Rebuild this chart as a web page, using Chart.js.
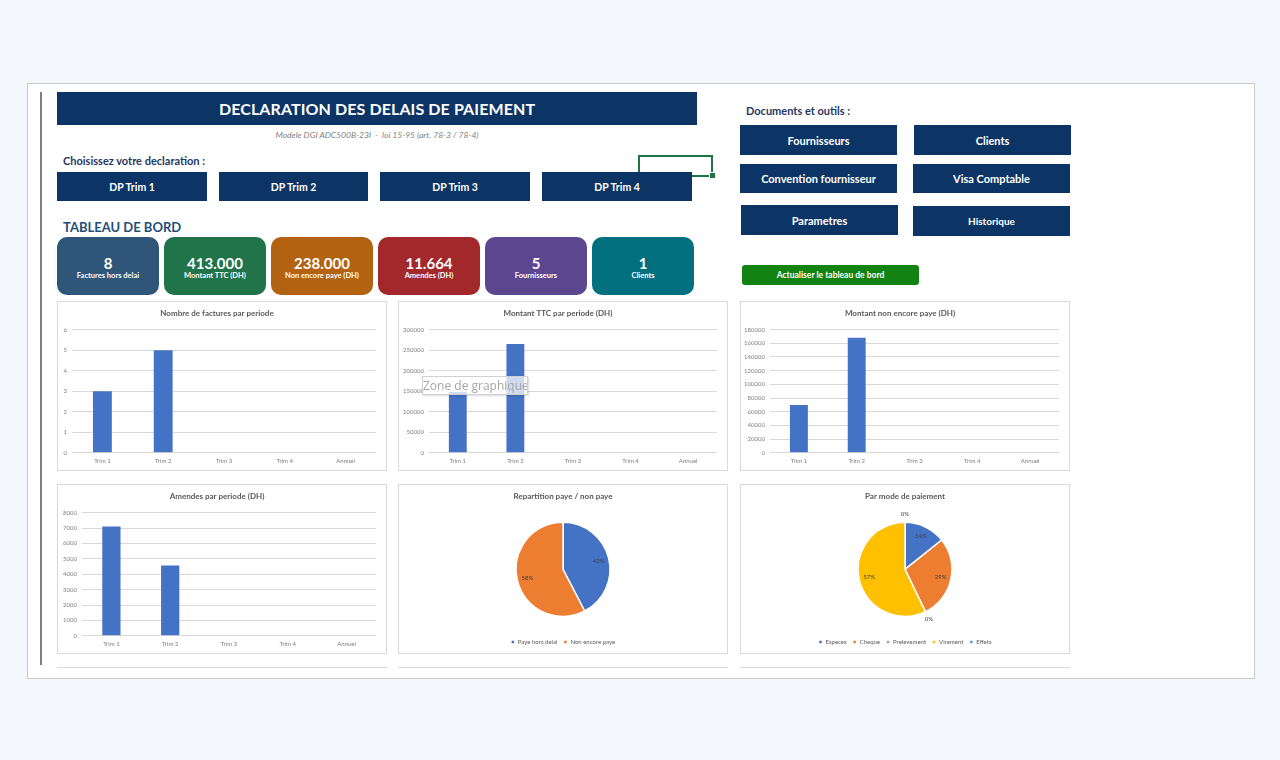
<!DOCTYPE html>
<html>
<head>
<meta charset="utf-8">
<script src="https://cdn.jsdelivr.net/npm/chart.js@4.4.1/dist/chart.umd.min.js"></script>
<style>
  body { margin: 0; width: 1280px; height: 760px; background: #f3f6fa; font-family: Lato, "Open Sans", sans-serif; position: relative; overflow: hidden; }
  .abs { position: absolute; }
  .panel { left: 27px; top: 83px; width: 1226px; height: 594px; background: #fff; border: 1px solid #c9c9c9; }
  .navy { background: #0c3565; color: #fff; font-weight: 700; display: flex; align-items: center; justify-content: center; }
  .btn { font-size: 10.5px; }
  .card { height: 58px; width: 102px; top: 237px; border-radius: 10px; color: #fff; text-align: center; font-weight: 700; }
  .card .v { position: absolute; left: 0; right: 0; top: 17px; font-size: 15px; line-height: 18px; }
  .card .l { position: absolute; left: 0; right: 0; top: 34px; font-size: 7.5px; line-height: 10px; }
  .box { border: 1px solid #d9d9d9; background: #fff; width: 328px; height: 168px; overflow: hidden; }
  .box canvas { display: block; }
  .cut { height: 0; border-top: 1px solid #d9d9d9; width: 330px; top: 667px; }
</style>
</head>
<body>
<div class="abs panel"></div>
<div class="abs" style="left:40px;top:92px;width:2px;height:573px;background:#7f7f7f"></div>

<div class="abs navy" style="left:57px;top:92px;width:640px;height:33px;font-size:16px;letter-spacing:0.1px">DECLARATION DES DELAIS DE PAIEMENT</div>
<div class="abs" style="left:177px;top:130px;width:400px;text-align:center;font-size:8.5px;font-style:italic;color:#7f7f7f">Modele DGI ADC500B-23I &nbsp;- &nbsp;loi 15-95 (art. 78-3 / 78-4)</div>
<div class="abs" style="left:63px;top:154px;font-size:11px;font-weight:700;color:#1f3864">Choisissez votre declaration :</div>

<div class="abs" style="left:638px;top:155px;width:71px;height:18px;border:2px solid #217346"></div>
<div class="abs" style="left:709px;top:172px;width:5px;height:5px;background:#217346;border:1px solid #fff"></div>

<div class="abs navy btn" style="left:57px;top:172px;width:150px;height:29px">DP Trim 1</div>
<div class="abs navy btn" style="left:219px;top:172px;width:149px;height:29px">DP Trim 2</div>
<div class="abs navy btn" style="left:380px;top:172px;width:150px;height:29px">DP Trim 3</div>
<div class="abs navy btn" style="left:542px;top:172px;width:150px;height:29px">DP Trim 4</div>

<div class="abs" style="left:746px;top:104px;font-size:11px;font-weight:700;color:#1f3864">Documents et outils :</div>
<div class="abs navy" style="left:740px;top:125px;width:157px;height:30px;font-size:11px">Fournisseurs</div>
<div class="abs navy" style="left:914px;top:125px;width:157px;height:30px;font-size:11px">Clients</div>
<div class="abs navy" style="left:740px;top:164px;width:157px;height:29px;font-size:11px">Convention fournisseur</div>
<div class="abs navy" style="left:913px;top:164px;width:157px;height:29px;font-size:11px">Visa Comptable</div>
<div class="abs navy" style="left:741px;top:205px;width:157px;height:30px;font-size:11px">Parametres</div>
<div class="abs navy" style="left:913px;top:206px;width:157px;height:30px;font-size:10px">Historique</div>
<div class="abs" style="left:742px;top:265px;width:177px;height:20px;border-radius:3px;background:#128312;color:#fff;font-size:8.5px;font-weight:700;display:flex;align-items:center;justify-content:center">Actualiser le tableau de bord</div>

<div class="abs" style="left:63px;top:219px;font-size:13px;font-weight:700;color:#1f4e79">TABLEAU DE BORD</div>
<div class="abs card" style="left:57px;background:#2f5579"><div class="v">8</div><div class="l">Factures hors delai</div></div>
<div class="abs card" style="left:164px;background:#21734a"><div class="v">413.000</div><div class="l">Montant TTC (DH)</div></div>
<div class="abs card" style="left:271px;background:#b36211"><div class="v">238.000</div><div class="l">Non encore paye (DH)</div></div>
<div class="abs card" style="left:378px;background:#a3282c"><div class="v">11.664</div><div class="l">Amendes (DH)</div></div>
<div class="abs card" style="left:485px;background:#5d4690"><div class="v">5</div><div class="l">Fournisseurs</div></div>
<div class="abs card" style="left:592px;background:#03707f"><div class="v">1</div><div class="l">Clients</div></div>

<div class="abs box" style="left:57px;top:301px"><canvas id="c1" width="328" height="168"></canvas></div>
<div class="abs box" style="left:398px;top:301px"><canvas id="c2" width="328" height="168"></canvas></div>
<div class="abs box" style="left:740px;top:301px"><canvas id="c3" width="328" height="168"></canvas></div>
<div class="abs box" style="left:57px;top:484px"><canvas id="c4" width="328" height="168"></canvas></div>
<div class="abs box" style="left:398px;top:484px"><canvas id="c5" width="328" height="170"></canvas></div>
<div class="abs box" style="left:740px;top:484px"><canvas id="c6" width="328" height="170"></canvas></div>
<div class="abs cut" style="left:57px"></div>
<div class="abs cut" style="left:398px"></div>
<div class="abs cut" style="left:740px"></div>

<div class="abs" style="left:422px;top:376px;width:104px;height:17px;background:rgba(255,255,255,0.75);border:1px solid #d0d0d0;box-shadow:1px 1px 2px rgba(0,0,0,0.15);font-size:12px;line-height:17px;color:#a6a6a6;font-family:'Open Sans',sans-serif;white-space:nowrap;overflow:hidden">Zone de graphique</div>

<script>
const periods = ["Trim 1", "Trim 2", "Trim 3", "Trim 4", "Annuel"];
const nbFactures = [3, 5, 0, 0, 0];
const montantTTC = [148000, 265000, 0, 0, 0];
const nonEncorePaye = [70000, 168000, 0, 0, 0];
const amendes = [7100, 4564, 0, 0, 0];

const repartLabels = ["Paye hors delai", "Non encore paye"];
const repartValues = [175000, 238000];

const modeLabels = ["Especes", "Cheque", "Prelevement", "Virement", "Effets"];
const modeValues = [1, 2, 0, 4, 0];

const barColor = "#4472c4";
const pieColors = ["#4472c4", "#ed7d31", "#a5a5a5", "#ffc000", "#5b9bd5"];

Chart.defaults.font.family = "Lato, 'Open Sans', sans-serif";
Chart.defaults.animation = false;

// Bar chart builder
function barChart(id, title, values, max, step, axisWidth) {
  new Chart(document.getElementById(id), {
    type: "bar",
    data: {
      labels: periods,
      datasets: [{ data: values, backgroundColor: barColor, barPercentage: 0.31, categoryPercentage: 1 }],
    },
    options: {
      responsive: false,
      layout: { padding: { left: 0, right: 10, bottom: 0, top: 0 } },
      scales: {
        x: {
          grid: { display: false, drawTicks: false },
          border: { display: false },
          ticks: { font: { size: 6 }, color: "#7f7f7f", padding: 5 },
        },
        y: {
          min: 0,
          max: max,
          ticks: { stepSize: step, font: { size: 6 }, color: "#7f7f7f", padding: 5, callback: (v) => String(v) },
          grid: { color: "#d9d9d9", drawTicks: false },
          border: { display: false },
          afterFit: (scale) => { scale.width = axisWidth; },
        },
      },
      plugins: {
        legend: { display: false },
        tooltip: { enabled: false },
        title: {
          display: true,
          text: title,
          color: "#595959",
          font: { size: 8, weight: "bold" },
          padding: { top: 7, bottom: 11 },
        },
      },
    },
  });
}

barChart("c1", "Nombre de factures par periode", nbFactures, 6, 1, 14);
barChart("c2", "Montant TTC par periode (DH)", montantTTC, 300000, 50000, 30);
barChart("c3", "Montant non encore paye (DH)", nonEncorePaye, 180000, 20000, 29);
barChart("c4", "Amendes par periode (DH)", amendes, 8000, 1000, 24);

// Percentage labels on the pies
const pieLabels = {
  id: "pieLabels",
  afterDatasetsDraw(chart) {
    const ctx = chart.ctx;
    const vals = chart.data.datasets[0].data;
    const total = vals.reduce((a, b) => a + b, 0);
    ctx.save();
    ctx.font = "6px Lato";
    ctx.fillStyle = "#404040";
    ctx.textAlign = "center";
    ctx.textBaseline = "middle";
    chart.getDatasetMeta(0).data.forEach((arc, i) => {
      const p = arc.getProps(["x", "y", "startAngle", "endAngle", "outerRadius"], true);
      const mid = (p.startAngle + p.endAngle) / 2;
      const r = vals[i] ? p.outerRadius * 0.78 : p.outerRadius + 8;
      ctx.fillText(Math.round((vals[i] / total) * 100) + "%", p.x + Math.cos(mid) * r, p.y + Math.sin(mid) * r);
    });
    ctx.restore();
  },
};

function pieChart(id, title, labels, values) {
  new Chart(document.getElementById(id), {
    type: "pie",
    data: {
      labels: labels,
      datasets: [{
        data: values,
        backgroundColor: pieColors.slice(0, values.length),
        borderColor: "#ffffff",
        borderWidth: 1.5,
        radius: 47,
      }],
    },
    options: {
      responsive: false,
      layout: { padding: { bottom: 0 } },
      plugins: {
        tooltip: { enabled: false },
        title: {
          display: true,
          text: title,
          color: "#595959",
          font: { size: 8, weight: "bold" },
          padding: { top: 7, bottom: 4 },
        },
        legend: {
          position: "bottom",
          labels: { boxWidth: 4, boxHeight: 4, padding: 6, font: { size: 6 }, color: "#595959" },
        },
      },
    },
    plugins: [pieLabels],
  });
}

pieChart("c5", "Repartition paye / non paye", repartLabels, repartValues);
pieChart("c6", "Par mode de paiement", modeLabels, modeValues);
</script>
</body>
</html>
